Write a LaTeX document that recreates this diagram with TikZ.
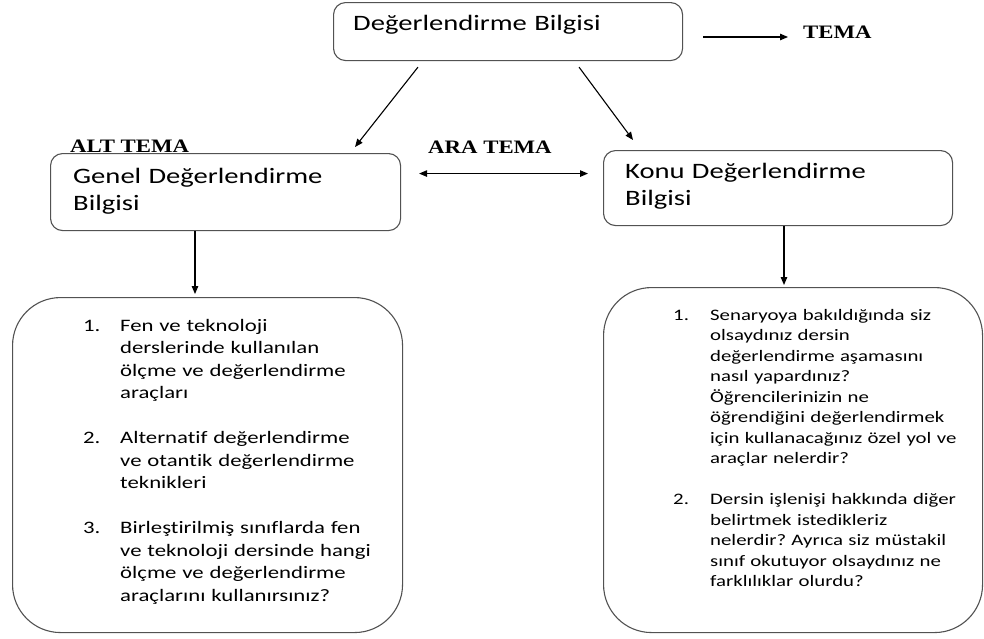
\documentclass[tikz,border=0pt]{standalone}
\usepackage{fontspec}
\setmainfont{Carlito}[FakeStretch=1.3, Ligatures=NoCommon]
\newfontfamily\temafont{Liberation Serif}[FakeStretch=1.2]
\usetikzlibrary{arrows.meta}
\frenchspacing

\begin{document}
\begin{tikzpicture}[x=1pt,y=-1pt,
  box/.style={draw=black!68, line width=1.1pt, rounded corners=12pt, inner sep=0pt, anchor=north west},
  bigbox/.style={box, rounded corners=48pt},
  arr/.style={-{Triangle[length=8pt,width=6.5pt]}, line width=1.1pt},
  dblarr/.style={{Triangle[length=8pt,width=6.5pt]}-{Triangle[length=8pt,width=6.5pt]}, line width=1.1pt},
  hdr/.style={font=\fontsize{22}{27}\selectfont, inner sep=0pt, anchor=base west, text width=320pt, align=left},
  tema/.style={font=\temafont\bfseries\fontsize{19}{22}\selectfont, inner sep=0pt, anchor=base west},
  listA/.style={font=\fontsize{17.5}{22.5}\selectfont, inner sep=0pt, anchor=base west, text width=320pt, align=left},
  listB/.style={font=\fontsize{16}{20.5}\selectfont, inner sep=0pt, anchor=base west, text width=300pt, align=left}
]
\useasboundingbox (0,0) rectangle (984,638);

% theme box and its label
\node[box, minimum width=349pt, minimum height=58pt] (top) at (333,2) {};
\node[hdr] (topT) at (353,30) {Değerlendirme Bilgisi};
\node[tema] (tema) at (803,38) {TEMA};
\coordinate (temaStart) at (703,37);
\draw[arr, shorten >=15pt] (temaStart) -- (temaStart -| tema.west);

% sub-theme boxes
\node[box, minimum width=350pt, minimum height=77pt] (genel) at (50,153) {};
\node[hdr] (genelT) at (73,183) {Genel Değerlendirme\\Bilgisi};
\node[box, minimum width=349pt, minimum height=75pt] (konu) at (603,150) {};
\node[hdr] (konuT) at (625,178) {Konu Değerlendirme\\Bilgisi};

\node[tema] (alt) at (70,152) {ALT TEMA};
\node[tema] (ara) at (428,153) {ARA TEMA};

% question boxes
\node[bigbox, minimum width=390pt, minimum height=335pt] (list1) at (12,297) {};
\node[bigbox, minimum width=379pt, minimum height=345pt] (list2) at (603,287) {};

\node[listA] (list1T) at (83,331) {%
\makebox[37pt][l]{1.}Fen ve teknoloji\\
\hspace*{37pt}derslerinde kullanılan\\
\hspace*{37pt}ölçme ve değerlendirme\\
\hspace*{37pt}araçları\\[22.5pt]
\makebox[37pt][l]{2.}Alternatif değerlendirme\\
\hspace*{37pt}ve otantik değerlendirme\\
\hspace*{37pt}teknikleri\\[22.5pt]
\makebox[37pt][l]{3.}Birleştirilmiş sınıflarda fen\\
\hspace*{37pt}ve teknoloji dersinde hangi\\
\hspace*{37pt}ölçme ve değerlendirme\\
\hspace*{37pt}araçlarını kullanırsınız?};

\node[listB] (list2T) at (673,320) {%
\makebox[37pt][l]{1.}Senaryoya bakıldığında siz\\
\hspace*{37pt}olsaydınız dersin\\
\hspace*{37pt}değerlendirme aşamasını\\
\hspace*{37pt}nasıl yapardınız?\\
\hspace*{37pt}Öğrencilerinizin ne\\
\hspace*{37pt}öğrendiğini değerlendirmek\\
\hspace*{37pt}için kullanacağınız özel yol ve\\
\hspace*{37pt}araçlar nelerdir?\\[20.5pt]
\makebox[37pt][l]{2.}Dersin işlenişi hakkında diğer\\
\hspace*{37pt}belirtmek istedikleriz\\
\hspace*{37pt}nelerdir? Ayrıca siz müstakil\\
\hspace*{37pt}sınıf okutuyor olsaydınız ne\\
\hspace*{37pt}farklılıklar olurdu?};

% connectors
\draw[arr] ([xshift=85pt,yshift=-6pt]top.south west) -- ([xshift=305pt,yshift=6pt]genel.north west);
\draw[arr] ([xshift=246pt,yshift=-6pt]top.south west) -- ([xshift=30pt,yshift=10pt]konu.north west);
\draw[dblarr] ([xshift=18pt,yshift=18.5pt]genel.east) -- ([xshift=-15pt,yshift=14.5pt]konu.west);
\draw[arr, shorten >=3pt] ([xshift=145pt]genel.south west) coordinate (g1) -- (g1 |- list1.north);
\draw[arr, shorten >=2pt] ([xshift=181pt]konu.south west) coordinate (k1) -- (k1 |- list2.north);
\end{tikzpicture}
\end{document}
